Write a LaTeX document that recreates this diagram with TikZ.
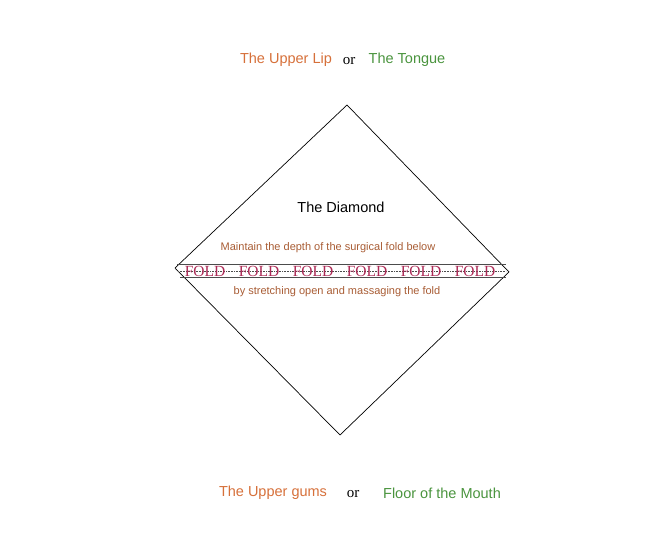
\documentclass[tikz,border=0pt]{standalone}
\usepackage{fontspec}
\setmainfont{Liberation Serif}
\newfontfamily\arialfont{Liberation Sans}
\usetikzlibrary{calc}

\definecolor{lipcol}{RGB}{214,112,58}
\definecolor{tonguecol}{RGB}{74,148,62}
\definecolor{notecol}{RGB}{168,92,52}
\definecolor{foldcol}{RGB}{172,42,86}

\tikzset{
  place/.style={font=\arialfont\fontsize{14.5}{16}\selectfont,inner sep=0pt},
  orword/.style={font=\fontsize{15}{17}\selectfont,inner sep=0pt},
  note/.style={font=\arialfont\fontsize{11}{13}\selectfont,text=notecol,inner sep=0pt},
  foldword/.style={font=\fontsize{15.5}{17}\selectfont,text=foldcol,inner sep=0pt},
  foldline/.style={gray!60!black,line width=0.6pt}
}

\begin{document}
\begin{tikzpicture}[x=1pt,y=-1pt]
  \useasboundingbox (0,0) rectangle (670,540);
  % what lies above the diamond
  \node[place,text=lipcol] (lip) at (286,60) {The Upper Lip};
  \node[orword] (ortop) at (349,61) {or};
  \node[place,text=tonguecol] (tongue) at (407,60) {The Tongue};
  % the diamond itself, corners as coordinates
  \coordinate (top) at (347,105);
  \coordinate (right) at (509,272);
  \coordinate (bottom) at (340,435);
  \coordinate (left) at (175,268);
  \draw[line width=0.7pt] (top) -- (right) -- (bottom) -- (left) -- cycle;
  \node[place] (title) at (341,207) {The Diamond};
  \node[note] (keep) at (328,248) {Maintain the depth of the surgical fold below};
  \node[note] (stretch) at (337,292) {by stretching open and massaging the fold};
  % the fold: two rules with a dotted one through the words
  \draw[foldline] (177,264) -- (506,264);
  \draw[foldline] (180,277.5) -- (506,277.5);
  \draw[foldline,densely dotted] (178,271) -- (506,271);
  \foreach \i/\x in {1/205,2/259,3/313,4/367,5/421,6/475}
    \node[foldword] (fold\i) at (\x,271) {FOLD};
  % what lies below the diamond
  \node[place,text=lipcol] (gums) at (273,493) {The Upper gums};
  \node[orword] (orbottom) at (353,494) {or};
  \node[place,text=tonguecol] (floor) at (442,493) {Floor of the Mouth};
\end{tikzpicture}
\end{document}
